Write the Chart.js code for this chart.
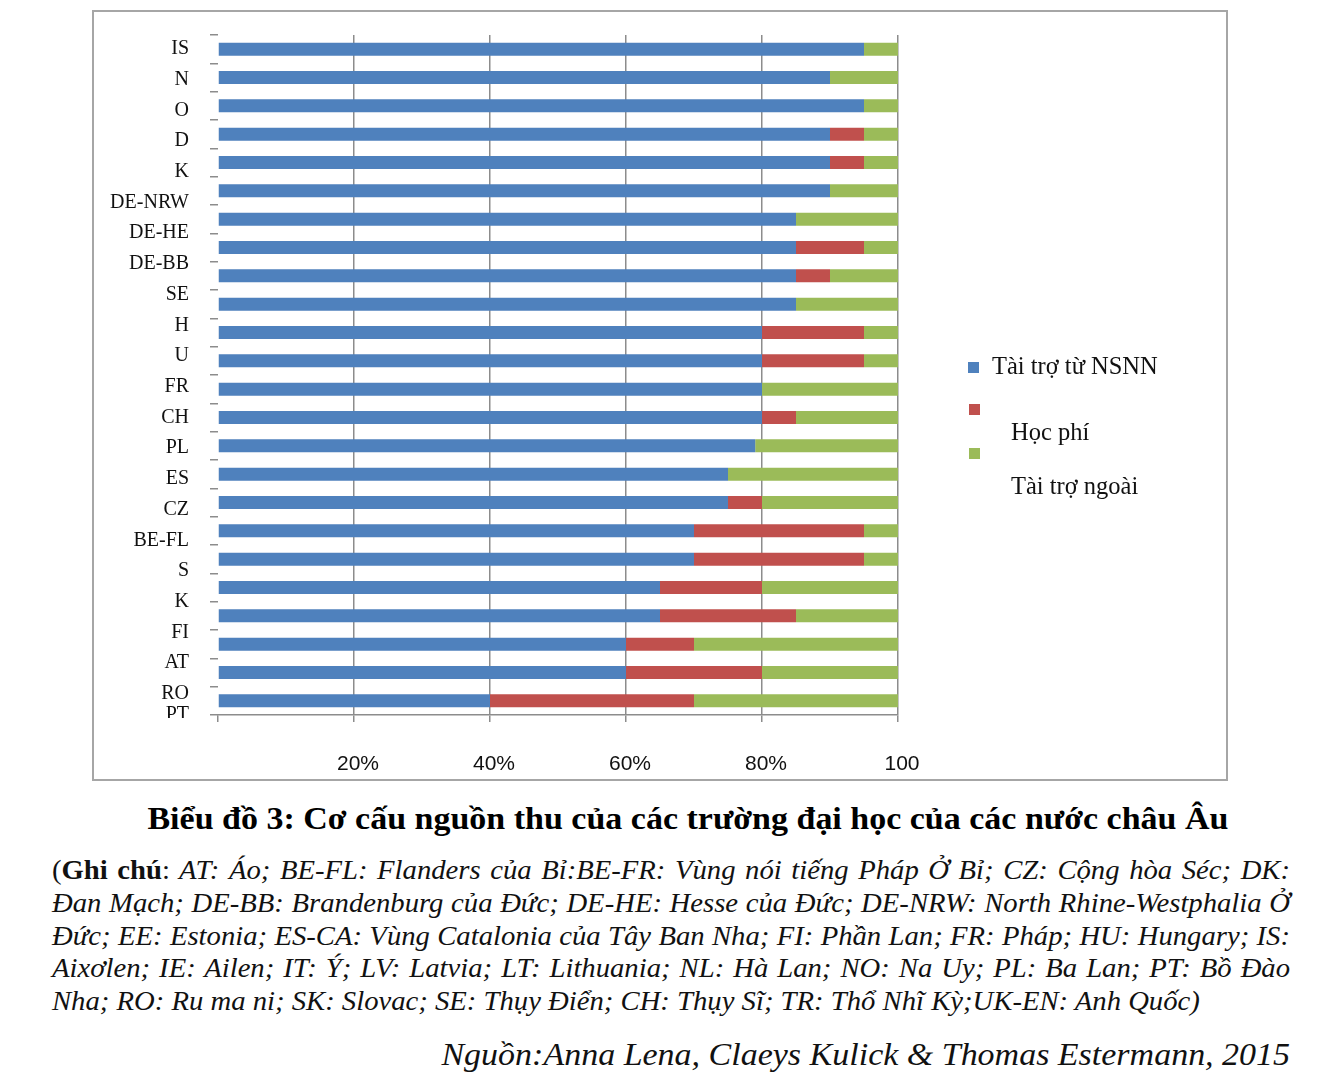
<!DOCTYPE html>
<html>
<head>
<meta charset="utf-8">
<script src="https://cdn.jsdelivr.net/npm/chart.js@4.4.1/dist/chart.umd.min.js"></script>
<style>
  body { margin: 0; background: #fff; width: 1338px; height: 1087px; position: relative; overflow: hidden; }
  #frame { position: absolute; left: 92px; top: 10px; width: 1136px; height: 771px; border: 2px solid #a6a6a6; box-sizing: border-box; }
  #myChart { position: absolute; left: 0; top: 0; }
  .lg { position: absolute; font-family: 'Liberation Serif', serif; font-size: 24.5px; color: #111; white-space: nowrap; }
  .sw { position: absolute; width: 11px; height: 11px; }
  #title { position: absolute; left: 0; width: 1376px; top: 800px; text-align: center; font-family: 'Liberation Serif', serif; font-weight: bold; font-size: 32px; white-space: nowrap; }
  #title span { display: inline-block; transform: scaleX(1.062); }
  #note { position: absolute; left: 52px; top: 854px; width: 1209px; transform: scaleX(1.024); transform-origin: left top; font-family: 'Liberation Serif', serif; font-size: 28px; line-height: 32.8px; font-style: italic; color: #111; }
  #note div { text-align: justify; text-align-last: justify; white-space: nowrap; }
  #note div.last { text-align-last: left; }
  #note b { font-style: normal; }
  #note .up { font-style: normal; }
  #source { position: absolute; right: 48px; top: 1036px; font-family: 'Liberation Serif', serif; font-style: italic; font-size: 32px; white-space: nowrap; transform: scaleX(1.062); transform-origin: right top; color: #111; }
</style>
</head>
<body>
<div id="frame">
  <canvas id="myChart" width="1132" height="767"></canvas>
</div>
<div class="sw" style="left:968px;top:362px;background:#4F81BD"></div>
<div class="lg" style="left:992px;top:352px">Tài trợ từ NSNN</div>
<div class="sw" style="left:969px;top:404px;background:#C0504D"></div>
<div class="lg" style="left:1011px;top:418px">Học phí</div>
<div class="sw" style="left:969px;top:448px;background:#9BBB59"></div>
<div class="lg" style="left:1011px;top:472px">Tài trợ ngoài</div>

<div id="title"><span>Biểu đồ 3: Cơ cấu nguồn thu của các trường đại học của các nước châu Âu</span></div>
<div id="note">
  <div><span class="up">(</span><b>Ghi chú</b><span class="up">:</span> AT: Áo; BE-FL: Flanders của Bỉ:BE-FR: Vùng nói tiếng Pháp Ở Bỉ; CZ: Cộng hòa Séc; DK:</div>
  <div>Đan Mạch; DE-BB: Brandenburg của Đức; DE-HE: Hesse của Đức; DE-NRW: North Rhine-Westphalia Ở</div>
  <div>Đức; EE: Estonia; ES-CA: Vùng Catalonia của Tây Ban Nha; FI: Phần Lan; FR: Pháp; HU: Hungary; IS:</div>
  <div>Aixơlen; IE: Ailen; IT: Ý; LV: Latvia; LT: Lithuania; NL: Hà Lan; NO: Na Uy; PL: Ba Lan; PT: Bồ Đào</div>
  <div class="last">Nha; RO: Ru ma ni; SK: Slovac; SE: Thụy Điển; CH: Thụy Sĩ; TR: Thổ Nhĩ Kỳ;UK-EN: Anh Quốc)</div>
</div>
<div id="source">Nguồn:Anna Lena, Claeys Kulick &amp; Thomas Estermann, 2015</div>

<script>
// country labels as printed on the left (they don't line up with the bars in the original)
const countries = ['IS', 'N', 'O', 'D', 'K', 'DE-NRW', 'DE-HE', 'DE-BB', 'SE', 'H', 'U', 'FR',
    'CH', 'PL', 'ES', 'CZ', 'BE-FL', 'S', 'K', 'FI', 'AT', 'RO', 'PT'];

// 24 bar rows, top to bottom
const rows = ['1', '2', '3', '4', '5', '6', '7', '8', '9', '10', '11', '12',
    '13', '14', '15', '16', '17', '18', '19', '20', '21', '22', '23', '24'];

const stateFunding = [95, 90, 95, 90, 90, 90, 85, 85, 85, 85, 80, 80, 80, 80, 79, 75, 75, 70, 70, 65, 65, 60, 60, 40];
const tuitionFees  = [0, 0, 0, 5, 5, 0, 0, 10, 5, 0, 15, 15, 0, 5, 0, 0, 5, 25, 25, 15, 20, 10, 20, 30];
const externalFund = [5, 10, 5, 5, 5, 10, 15, 5, 10, 15, 5, 5, 20, 15, 21, 25, 20, 5, 5, 20, 15, 30, 20, 30];

const xTicks = [0, 20, 40, 60, 80, 100];
const xTickText = ['', '20%', '40%', '60%', '80%', '100'];

const gridGray = '#8c8c8c';

// no extra padding from end labels, keeps the plot area where it is
const noPad = s => { s.paddingTop = 0; s.paddingBottom = 0; s.paddingLeft = 0; s.paddingRight = 0; };

// crop the last label like in the source image
const cropLabels = {
    id: 'cropLabels',
    afterDraw(chart) {
        const c = chart.ctx, a = chart.chartArea, s = chart.scales.y2;
        c.save();
        c.fillStyle = '#fff';
        c.fillRect(0, a.bottom + 3, s.right, 20);
        c.restore();
    }
};

let myChart = document.getElementById('myChart').getContext('2d');

new Chart(myChart, {
    type: 'bar',
    data: {
        labels: rows,
        datasets: [
            { label: 'Tài trợ từ NSNN', data: stateFunding, backgroundColor: '#4F81BD' },
            { label: 'Học phí', data: tuitionFees, backgroundColor: '#C0504D' },
            { label: 'Tài trợ ngoài', data: externalFund, backgroundColor: '#9BBB59' }
        ]
    },
    options: {
        indexAxis: 'y',
        responsive: false,
        animation: false,
        barPercentage: 0.46,
        categoryPercentage: 1,
        layout: { padding: { top: 23, right: 328, left: 0, bottom: 0 } },
        plugins: { legend: { display: false }, tooltip: { enabled: false } },
        scales: {
            x: {
                stacked: true,
                min: 0,
                max: 100,
                afterBuildTicks: s => { s.ticks = xTicks.map(v => ({ value: v })); },
                afterFit: s => { s.height = 64; noPad(s); },
                border: { display: true, color: gridGray, width: 1.5 },
                grid: {
                    color: c => (c.tick && c.tick.value === 0) ? 'rgba(0,0,0,0)' : gridGray,
                    tickColor: gridGray,
                    lineWidth: 1.5,
                    tickLength: 7
                },
                ticks: {
                    callback: (v, i) => xTickText[i],
                    color: '#111',
                    padding: 30,
                    labelOffset: 4,
                    maxRotation: 0,
                    font: { family: 'Liberation Sans', size: 21 }
                }
            },
            y: {
                stacked: true,
                weight: 0,
                offset: true,
                afterFit: s => { s.width = 8; noPad(s); },
                border: { display: false },
                grid: {
                    offset: true,
                    drawOnChartArea: false,
                    color: gridGray,
                    lineWidth: 1.5,
                    tickLength: 8
                },
                ticks: { display: false }
            },
            y2: {
                type: 'linear',
                position: 'left',
                weight: 1,
                display: true,
                offset: false,
                reverse: true,
                min: -0.456,
                max: 21.69,
                afterBuildTicks: s => { s.ticks = countries.map((c, i) => ({ value: Math.min(i, s.max) })); },
                afterFit: s => { s.width = 116; noPad(s); },
                border: { display: false },
                grid: { display: false, offset: false },
                ticks: {
                    callback: (v, i) => countries[i],
                    color: '#111',
                    padding: 13,
                    font: { family: 'Liberation Serif', size: 20 }
                }
            }
        }
    },
    plugins: [cropLabels]
});
</script>
</body>
</html>
